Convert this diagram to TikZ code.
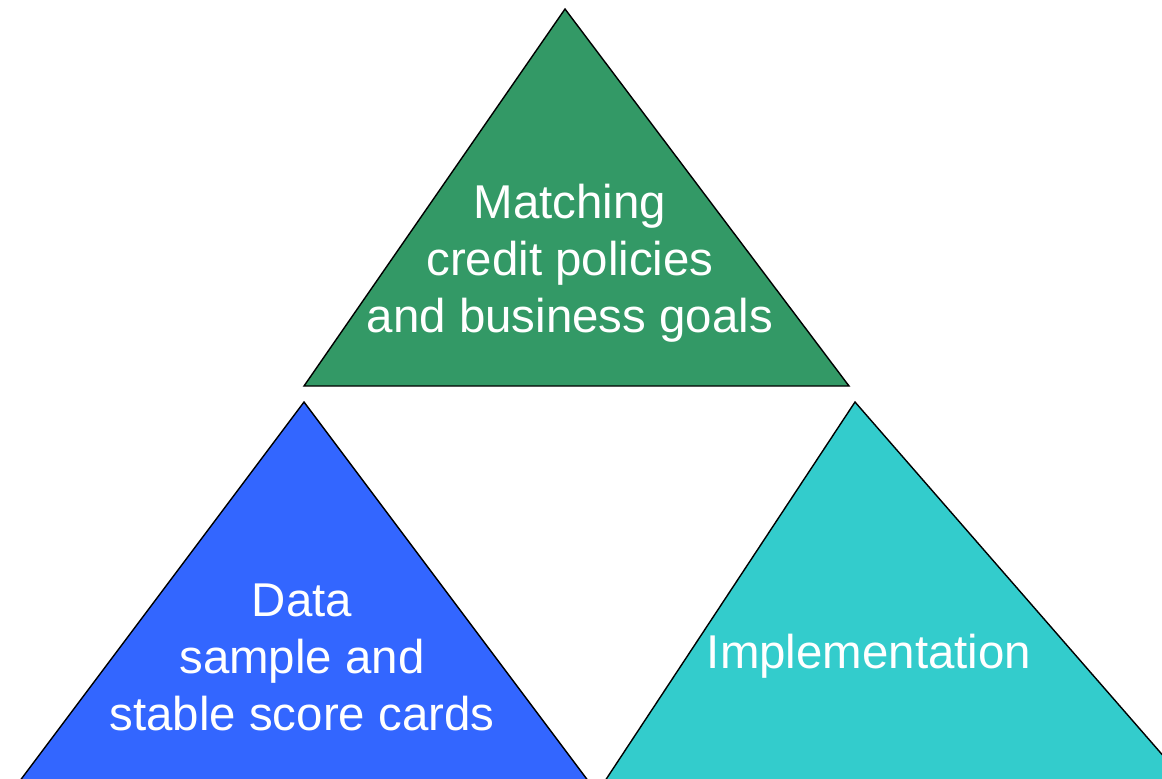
\documentclass[tikz,border=0pt]{standalone}
\usepackage{fontspec}
\setmainfont{Liberation Sans}
\usepackage{xcolor}
\definecolor{TriGreen}{HTML}{339966}
\definecolor{TriBlue}{HTML}{3366FF}
\definecolor{TriTeal}{HTML}{33CCCC}

\tikzset{
  tri/.style={draw=black,line width=0.8pt,line join=miter},
  label/.style={text=white,align=center,inner sep=0pt,font=\fontsize{27}{32.4}\selectfont}
}

\begin{document}
\begin{tikzpicture}[x=0.02cm,y=-0.02cm]
\path[use as bounding box] (0,0) rectangle (1162,778);
\clip (0,0) rectangle (1162,778);
% top triangle
\draw[tri,fill=TriGreen] (565,9) -- (849,386) -- (304,386) -- cycle;
% lower triangles, bases run off the page
\draw[tri,fill=TriBlue] (304,402) -- (595,790) -- (13,790) -- cycle;
\draw[tri,fill=TriTeal] (855,402) -- (1193,790) -- (599,790) -- cycle;
\node[label] (goals) at (570,263) {Matching\\credit policies\\and business goals};
\node[label] (data) at (302,657) {Data\\sample and\\stable score cards};
\node[label] (impl) at (869,656) {Implementation};
\end{tikzpicture}
\end{document}
